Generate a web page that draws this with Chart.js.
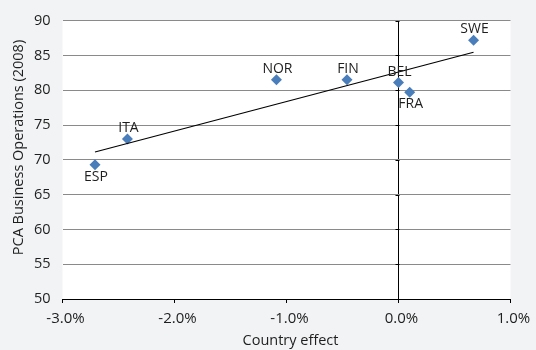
<!DOCTYPE html>
<html>
<head>
<meta charset="utf-8">
<script src="https://cdn.jsdelivr.net/npm/chart.js@4.4.1/dist/chart.umd.min.js"></script>
<style>
  html, body { margin: 0; padding: 0; background: #f2f3f5; }
  #wrap { width: 536px; height: 350px; }
</style>
</head>
<body>
<div id="wrap"><canvas id="c" width="536" height="350"></canvas></div>
<script>
// Country codes and their values
const countries = ['ESP', 'ITA', 'NOR', 'FIN', 'BEL', 'FRA', 'SWE'];
const countryEffect = [-2.71, -2.42, -1.09, -0.46, 0.00, 0.10, 0.67];   // %
const pcaBusinessOps = [69.3, 73.0, 81.5, 81.5, 81.1, 79.7, 87.2];
// Labels that sit under their marker instead of above it
const labelsBelow = ['ESP', 'FRA'];

const yTitle = 'PCA Business Operations (2008)';
const xTitle = 'Country effect';

const FONT = '"Open Sans", "DejaVu Sans", sans-serif';
const TEXT = '#1e1e1e';
const BLUE = '#4a7ebb';

// Least-squares linear trend across the points
function linearTrend(xs, ys) {
  const n = xs.length;
  const mx = xs.reduce((a, b) => a + b, 0) / n;
  const my = ys.reduce((a, b) => a + b, 0) / n;
  let sxy = 0, sxx = 0;
  for (let i = 0; i < n; i++) {
    sxy += (xs[i] - mx) * (ys[i] - my);
    sxx += (xs[i] - mx) * (xs[i] - mx);
  }
  const slope = sxy / sxx;
  const x0 = Math.min(...xs), x1 = Math.max(...xs);
  return [
    { x: x0, y: my + slope * (x0 - mx) },
    { x: x1, y: my + slope * (x1 - mx) }
  ];
}

const points = countries.map((c, i) => ({ x: countryEffect[i], y: pcaBusinessOps[i] }));
const trend = linearTrend(countryEffect, pcaBusinessOps);

// White plot area on the grey page
const plotBackground = {
  id: 'plotBackground',
  beforeDraw(chart) {
    const { ctx, chartArea: a } = chart;
    ctx.save();
    ctx.fillStyle = '#ffffff';
    ctx.fillRect(a.left, a.top, a.right - a.left, a.bottom - a.top);
    ctx.restore();
  }
};

// Small tick marks on the vertical axis crossing at 0%
const zeroAxisTicks = {
  id: 'zeroAxisTicks',
  afterDraw(chart) {
    const { ctx, scales: { x, y } } = chart;
    const x0 = Math.round(x.getPixelForValue(0)) + 0.5;
    ctx.save();
    ctx.strokeStyle = '#000';
    ctx.lineWidth = 1;
    ctx.beginPath();
    y.ticks.forEach(t => {
      const py = Math.round(y.getPixelForValue(t.value)) + 0.5;
      ctx.moveTo(x0 - 4, py);
      ctx.lineTo(x0, py);
    });
    ctx.stroke();
    ctx.restore();
  }
};

// Country names beside each marker
const pointLabels = {
  id: 'pointLabels',
  afterDatasetsDraw(chart) {
    const { ctx } = chart;
    const meta = chart.getDatasetMeta(0);
    ctx.save();
    ctx.font = '14px ' + FONT;
    ctx.fillStyle = TEXT;
    ctx.textAlign = 'center';
    ctx.textBaseline = 'middle';
    meta.data.forEach((el, i) => {
      const name = countries[i];
      const dy = labelsBelow.includes(name) ? 12 : -11;
      ctx.fillText(name, el.x + 1, el.y + dy);
    });
    ctx.restore();
  }
};

// Axis titles
const axisTitles = {
  id: 'axisTitles',
  afterDraw(chart) {
    const { ctx, chartArea: a } = chart;
    ctx.save();
    ctx.font = '14.5px ' + FONT;
    ctx.fillStyle = TEXT;
    ctx.textAlign = 'center';
    ctx.textBaseline = 'middle';
    ctx.fillText(xTitle, (a.left + a.right) / 2 + 4, 341);
    ctx.translate(19, (a.bottom) / 2 - 2);
    ctx.rotate(-Math.PI / 2);
    ctx.fillText(yTitle, 0, 0);
    ctx.restore();
  }
};

new Chart(document.getElementById('c'), {
  type: 'scatter',
  data: {
    datasets: [
      {
        data: points,
        pointStyle: 'rectRot',
        pointRadius: 5.5,
        pointHoverRadius: 5.5,
        backgroundColor: BLUE,
        borderColor: BLUE,
        borderWidth: 0,
        order: 2
      },
      {
        type: 'line',
        data: trend,
        borderColor: '#000',
        borderWidth: 1.2,
        pointRadius: 0,
        fill: false,
        order: 1
      }
    ]
  },
  options: {
    responsive: false,
    animation: false,
    events: [],
    layout: { padding: { top: 15, right: 25.5, left: 0, bottom: 0 } },
    plugins: {
      legend: { display: false },
      tooltip: { enabled: false }
    },
    scales: {
      x: {
        type: 'linear',
        min: -3,
        max: 1,
        border: { display: true, color: '#000', width: 1 },
        grid: {
          drawOnChartArea: true,
          drawTicks: true,
          tickLength: 4,
          tickColor: '#000',
          color: ctx => (ctx.tick && ctx.tick.value === 0) ? '#000' : 'rgba(0,0,0,0)',
          lineWidth: 1
        },
        ticks: {
          stepSize: 1,
          padding: 7,
          labelOffset: 3,
          color: TEXT,
          font: { family: FONT, size: 15 },
          callback: v => v.toFixed(1) + '%'
        },
        afterFit(scale) { scale.height = 51; }
      },
      y: {
        min: 50,
        max: 90,
        border: { display: false },
        grid: {
          drawTicks: false,
          color: '#8a8a8a',
          lineWidth: 1
        },
        ticks: {
          stepSize: 5,
          padding: 12,
          color: TEXT,
          font: { family: FONT, size: 14.5 }
        },
        afterFit(scale) { scale.width = 62.5; }
      }
    }
  },
  plugins: [plotBackground, zeroAxisTicks, pointLabels, axisTitles]
});
</script>
</body>
</html>
